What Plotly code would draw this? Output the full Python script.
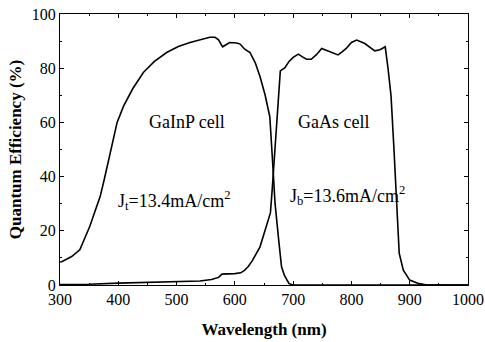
import plotly.graph_objects as go

# GaInP top cell quantum efficiency
gainp_wl = [300, 303, 320, 334, 351, 369, 376, 382, 390, 398, 409, 425, 443, 462, 483, 503, 523, 540, 557, 566,
            572, 579, 585, 591, 603, 609, 617, 626, 635, 643, 652, 660, 666, 669, 675, 680, 685, 689, 693,
            700, 800, 900, 1000]
gainp_qe = [8.5, 8.6, 10.5, 13, 21.6, 32.7, 39, 45, 53, 60, 66, 72.5, 78.4, 82.5, 85.8, 88, 89.5, 90.5, 91.4, 91.4,
            90.5, 87.9, 88.8, 89.5, 89.3, 88.9, 87, 85.8, 82, 77, 70, 62, 41, 30, 17, 6.8, 3.5, 1.8, 0.5,
            0, 0, 0, 0]

# GaAs bottom cell quantum efficiency
gaas_wl = [300, 350, 400, 450, 500, 540, 560, 572, 578, 583, 600, 610, 617, 623, 630, 643, 654, 661, 664, 666,
           669, 674, 678, 686, 693, 700, 709, 716, 723, 731, 740, 749, 760, 768, 777, 784, 791, 800, 809, 823,
           832, 840, 849, 858, 863, 868, 873, 877, 882, 889, 900, 916, 930, 1000]
gaas_qe = [0.2, 0.3, 0.7, 1, 1.2, 1.5, 2, 2.8, 4, 4, 4.2, 4.5, 5.5, 6.8, 9, 14, 21.6, 26.6, 35, 41,
           51, 68.5, 79, 80.2, 82.5, 84, 85.2, 84.2, 83.3, 83.3, 85, 87.3, 86.4, 85.5, 84.9, 86, 87.3, 89.5, 90.4, 89.1,
           87.5, 86.4, 86.8, 87.9, 79.6, 69.7, 50, 32.7, 11.7, 5.5, 1.8, 0.5, 0, 0]

x_ticks = [300, 400, 500, 600, 700, 800, 900, 1000]
y_ticks = [0, 20, 40, 60, 80, 100]

font = "Liberation Serif"

fig = go.Figure()
fig.add_trace(go.Scatter(x=gainp_wl, y=gainp_qe, mode="lines",
                         line=dict(color="black", width=1.6), showlegend=False))
fig.add_trace(go.Scatter(x=gaas_wl, y=gaas_qe, mode="lines",
                         line=dict(color="black", width=1.6), showlegend=False))

annotations = [
    dict(x=518, y=60, text="GaInP cell"),
    dict(x=770, y=60, text="GaAs cell"),
    dict(x=495, y=31, text="J<sub>t</sub>=13.4mA/cm<sup>2</sup>"),
    dict(x=794, y=33, text="J<sub>b</sub>=13.6mA/cm<sup>2</sup>"),
]
for a in annotations:
    fig.add_annotation(x=a["x"], y=a["y"], text=a["text"], showarrow=False,
                       font=dict(family=font, size=18, color="black"))

axis_common = dict(showline=True, linecolor="black", linewidth=1.2, mirror="allticks",
                   ticks="inside", ticklen=4, tickwidth=1, tickcolor="black",
                   showgrid=False, zeroline=False, automargin=False,
                   tickfont=dict(family=font, size=16, color="black"))

fig.update_xaxes(range=[300, 1000], tickvals=x_ticks,
                 minor=dict(ticks="inside", ticklen=2, dtick=50, tickcolor="black"),
                 title=dict(text="<b>Wavelength (nm)</b>", font=dict(family=font, size=17, color="black")),
                 **axis_common)
fig.update_yaxes(range=[0, 100], tickvals=y_ticks,
                 minor=dict(ticks="inside", ticklen=2, dtick=10, tickcolor="black"),
                 title=dict(text="<b>Quantum Efficiency (%)</b>", font=dict(family=font, size=17, color="black"),
                            standoff=5),
                 **axis_common)

fig.update_layout(width=485, height=342, margin=dict(l=60, r=17, t=14, b=57, autoexpand=False),
                  paper_bgcolor="white", plot_bgcolor="white",
                  font=dict(family=font, color="black"))

fig.write_html("out.html")
